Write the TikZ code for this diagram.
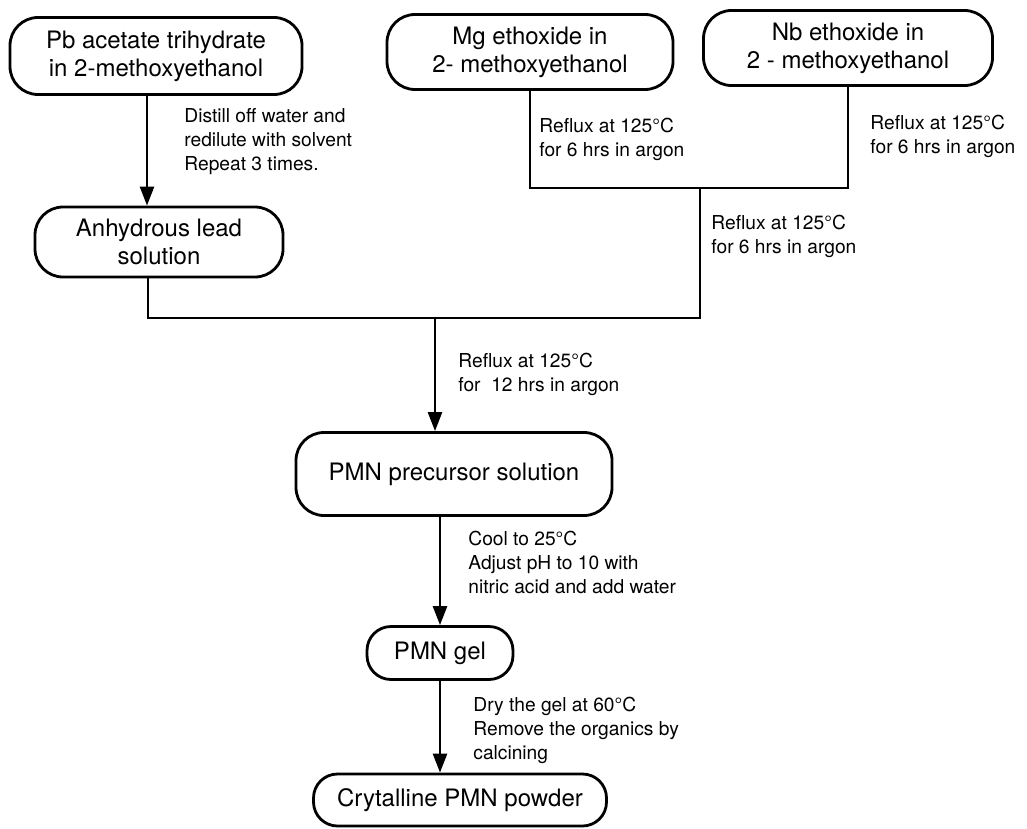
\documentclass[tikz,border=0pt]{standalone}
\usepackage{fontspec}
\setmainfont{TeX Gyre Heros}
\usetikzlibrary{arrows.meta}
\begin{document}
\begin{tikzpicture}[x=0.5pt, y=-0.5pt,
    stage/.style={draw, line width=1.4pt, rounded corners=14pt, align=center,
      inner sep=2pt, font=\fontsize{12}{14}\selectfont},
    note/.style={anchor=north west, align=left, inner sep=0pt,
      font=\fontsize{9.6}{12}\selectfont},
    flow/.style={line width=1.3pt},
    arr/.style={flow, -{Triangle[width=7pt, length=9.5pt]}}]
  \useasboundingbox (0,0) rectangle (1027,829);
  \draw
    (156,56) node[stage, minimum width=146pt, minimum height=38.5pt] (pb) {Pb acetate trihydrate\\ in 2-methoxyethanol}
    (530,52) node[stage, minimum width=143pt, minimum height=37.5pt] (mg) {Mg ethoxide in\\2- methoxyethanol}
    (848,48) node[stage, minimum width=144.5pt, minimum height=37.5pt] (nb) {Nb ethoxide in\\2 - methoxyethanol}
    (159,242) node[stage, minimum width=124pt, minimum height=35pt] (anh) {Anhydrous lead\\solution}
    (454,474) node[stage, minimum width=158pt, minimum height=41.5pt] (prec) {PMN precursor solution}
    (440,653) node[stage, rounded corners=12pt, minimum width=73pt, minimum height=26.5pt] (gel) {PMN gel}
    (460,800) node[stage, rounded corners=12pt, minimum width=146.5pt, minimum height=26pt] (cryst) {Crytalline PMN powder};
  \coordinate (lead) at (148,318);
  \coordinate (mix) at (700,188);
  \coordinate (drop) at (435,318);
  \begin{scope}[flow]
    \draw (anh.south -| lead) -- (lead) -- (lead -| mix) -- (mix);
    \draw (mg.south) |- (mix) -| (nb.south);
  \end{scope}
  \begin{scope}[arr]
    \draw ([xshift=-4.5pt]pb.south) -- ([xshift=-4.5pt]pb.south |- anh.north);
    \draw (drop) -- (drop |- prec.north);
    \draw (prec.south -| gel.north) -- (gel.north);
    \draw (gel.south) -- (cryst.north -| gel.south);
  \end{scope}
  \node[note] (distill) at (184,108) {Distill off water and\\redilute with solvent\\Repeat 3 times.};
  \node[note] (mgnote) at (539,118) {Reflux at 125°C\\for 6 hrs in argon};
  \node[note] (nbnote) at (870,115) {Reflux at 125°C\\for 6 hrs in argon};
  \node[note] (mixnote) at (711,215) {Reflux at 125°C\\for 6 hrs in argon};
  \node[note] (precnote) at (458,353) {Reflux at 125°C\\for\ \ 12 hrs in argon};
  \node[note] (gelnote) at (468,531) {Cool to 25°C\\Adjust pH to 10 with\\nitric acid and add water};
  \node[note] (drynote) at (473,697) {Dry the gel at 60°C\\Remove the organics by\\calcining};
\end{tikzpicture}
\end{document}
